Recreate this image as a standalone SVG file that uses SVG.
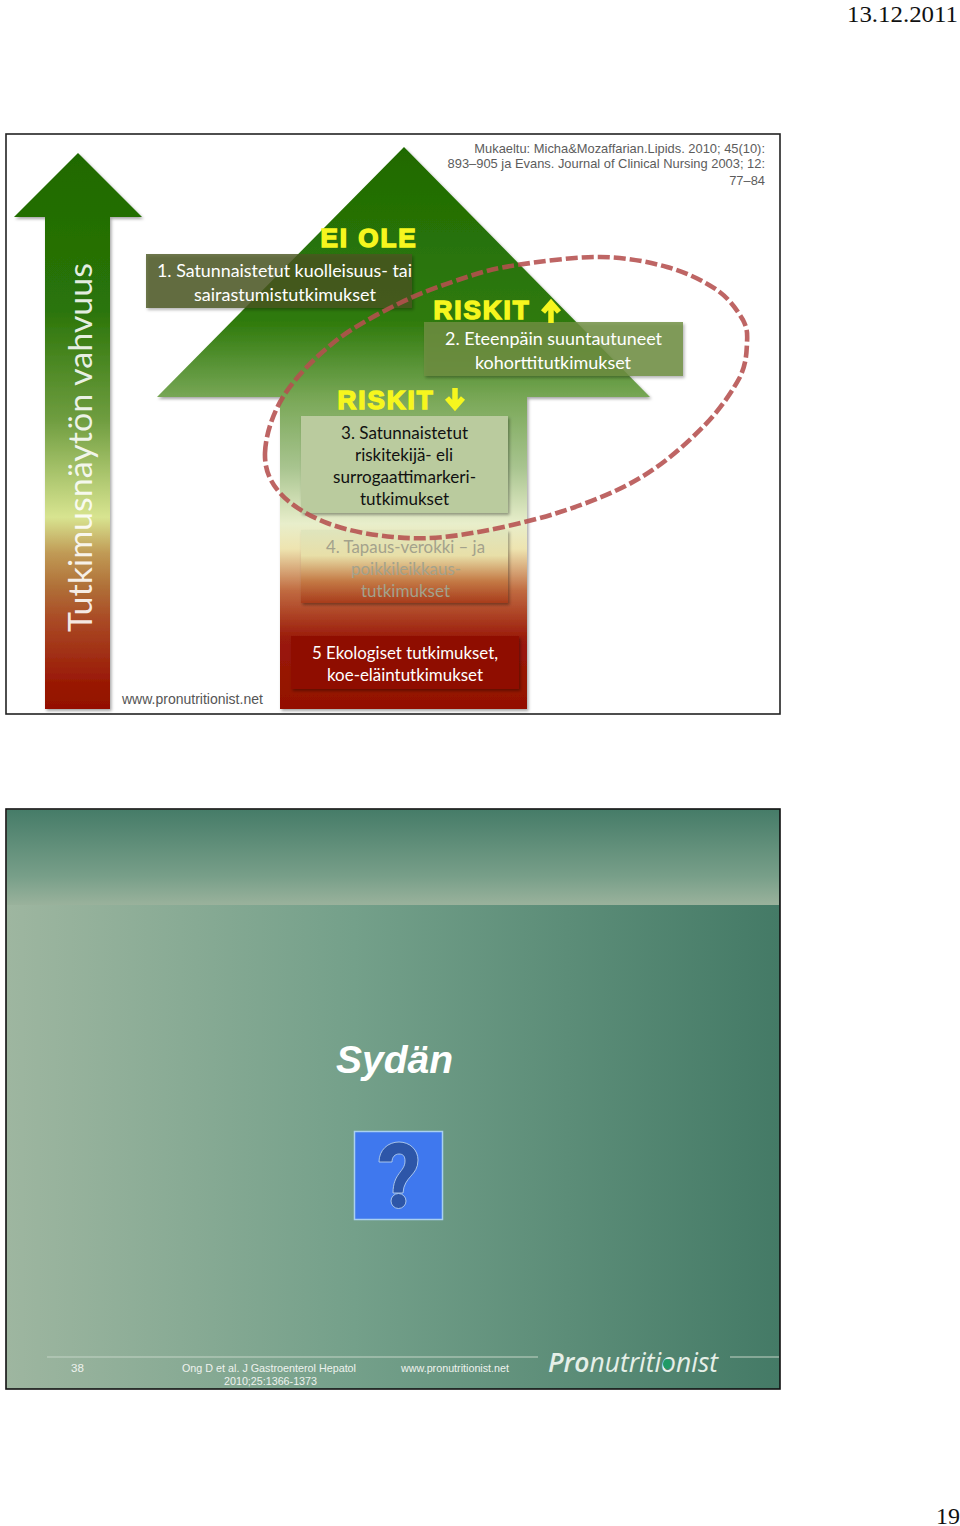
<svg xmlns="http://www.w3.org/2000/svg" width="960" height="1526" viewBox="0 0 960 1526">
<style>
.ar{font-family:"Liberation Sans",Arial,sans-serif}
.hd{font-family:"Liberation Sans",Arial,sans-serif;font-weight:bold;fill:#f6f61e;stroke:#f6f61e;stroke-width:1.5;font-size:26px;letter-spacing:2px;text-anchor:middle}
.box{font-family:Lato,"Open Sans",sans-serif;font-size:18px}
.ref{font-size:12.9px;fill:#5c5c5c;text-anchor:end}
.ft{font-family:"Liberation Sans",Arial,sans-serif;font-size:11.5px;fill:#eef2ee}
</style>
<defs>
<linearGradient id="gMain" gradientUnits="userSpaceOnUse" x1="0" y1="147" x2="0" y2="709">
<stop offset="0" stop-color="#1f6a02"/><stop offset=".31" stop-color="#2f7a0c"/><stop offset=".45" stop-color="#7aa858"/><stop offset=".57" stop-color="#a8c48f"/><stop offset=".67" stop-color="#e8eecb"/><stop offset=".715" stop-color="#eee4b0"/><stop offset=".79" stop-color="#c06a40"/><stop offset=".875" stop-color="#9a1a0a"/><stop offset="1" stop-color="#931000"/>
</linearGradient>
<linearGradient id="gLeft" gradientUnits="userSpaceOnUse" x1="0" y1="153" x2="0" y2="709">
<stop offset="0" stop-color="#1f6a02"/><stop offset=".28" stop-color="#2a7408"/><stop offset=".48" stop-color="#6f9d40"/><stop offset=".655" stop-color="#d8e490"/><stop offset=".72" stop-color="#c09a55"/><stop offset=".78" stop-color="#b07038"/><stop offset=".84" stop-color="#aa4a25"/><stop offset=".96" stop-color="#981503"/><stop offset="1" stop-color="#931000"/>
</linearGradient>
<linearGradient id="gBox4" x1="0" y1="0" x2="0" y2="1">
<stop offset="0" stop-color="#dfe5bd"/><stop offset=".35" stop-color="#e8dfa8"/><stop offset=".7" stop-color="#c47a45"/><stop offset="1" stop-color="#a83c1c"/>
</linearGradient>
<linearGradient id="gSl" x1="0" y1="0" x2="1" y2="0">
<stop offset="0" stop-color="#9eb6a0"/><stop offset=".45" stop-color="#74a08a"/><stop offset="1" stop-color="#447a66"/>
</linearGradient>
<linearGradient id="gTop" x1="0" y1="0" x2="0" y2="1">
<stop offset="0" stop-color="#467c68"/><stop offset=".7" stop-color="#789f89"/><stop offset="1" stop-color="#9ab29c"/>
</linearGradient>
<filter id="sh" x="-5%" y="-5%" width="112%" height="115%"><feDropShadow dx="1.5" dy="2" stdDeviation="1.5" flood-color="#000" flood-opacity=".35"/></filter>
</defs>
<rect width="960" height="1526" fill="#fff"/>
<text x="847" y="21.500" font-family="'Liberation Serif',serif" font-size="24" fill="#111" textLength="111" lengthAdjust="spacingAndGlyphs">13.12.2011</text>
<text x="960" y="1524" text-anchor="end" font-family="'Liberation Serif',serif" font-size="24" fill="#111">19</text>

<g id="slide1">
<rect x="6" y="134" width="774" height="580" fill="#fff" stroke="#222" stroke-width="1.6"/>
<text class="ar ref" x="765" y="153">Mukaeltu: Micha&amp;Mozaffarian.Lipids. 2010; 45(10):</text>
<text class="ar ref" x="765" y="168">893–905 ja Evans. Journal of Clinical Nursing 2003; 12:</text>
<text class="ar ref" x="765" y="185">77–84</text>
<text class="ar" x="122" y="704" font-size="14" fill="#555">www.pronutritionist.net</text>
</g>
<g id="arrow-left">
<polygon points="78,153 142,217 110,217 110,709 45,709 45,217 14,217" fill="url(#gLeft)" filter="url(#sh)"/>
<text class="box" transform="translate(92,632) rotate(-90)" style="font-size:33px" textLength="369" lengthAdjust="spacingAndGlyphs" fill="#fff" fill-opacity=".88">Tutkimusnäytön vahvuus</text>
</g>
<g id="arrow-main">
<polygon points="404,147 650,397 527,397 527,709 280,709 280,397 157,397" fill="url(#gMain)" filter="url(#sh)"/>
</g>
<g id="box1">
<rect x="146" y="254" width="266" height="54" fill="#4a5523" fill-opacity=".8" filter="url(#sh)"/>
<text class="box" fill="#fff" x="157" y="277" textLength="255" lengthAdjust="spacingAndGlyphs">1. Satunnaistetut kuolleisuus- tai</text>
<text class="box" fill="#fff" x="194" y="301" textLength="182" lengthAdjust="spacingAndGlyphs">sairastumistutkimukset</text>
</g>
<g id="box2">
<rect x="424" y="322" width="259" height="54" fill="#6f8f3f" fill-opacity=".82" filter="url(#sh)"/>
<text class="box" fill="#fff" x="445" y="345" textLength="217" lengthAdjust="spacingAndGlyphs">2. Eteenpäin suuntautuneet</text>
<text class="box" fill="#fff" x="475" y="369" textLength="156" lengthAdjust="spacingAndGlyphs">kohorttitutkimukset</text>
</g>
<g id="box3">
<rect x="301" y="416" width="207" height="97" fill="#bacb9e" filter="url(#sh)"/>
<g class="box" fill="#111"><text x="341" y="439" textLength="127" lengthAdjust="spacingAndGlyphs">3. Satunnaistetut</text><text x="355" y="461" textLength="98" lengthAdjust="spacingAndGlyphs">riskitekijä- eli</text><text x="333" y="483" textLength="143" lengthAdjust="spacingAndGlyphs">surrogaattimarkeri-</text><text x="360" y="505" textLength="89" lengthAdjust="spacingAndGlyphs">tutkimukset</text></g>
</g>
<g id="box4">
<rect x="301" y="530" width="207" height="73" fill="url(#gBox4)" filter="url(#sh)"/>
<g class="box" fill="#a3a28c"><text x="326" y="553" textLength="159" lengthAdjust="spacingAndGlyphs">4. Tapaus-verokki – ja</text><text x="351" y="575" textLength="110" lengthAdjust="spacingAndGlyphs">poikkileikkaus-</text><text x="361" y="597" textLength="89" lengthAdjust="spacingAndGlyphs">tutkimukset</text></g>
</g>
<g id="box5">
<rect x="291" y="636" width="228" height="53" fill="#8f0f00" filter="url(#sh)"/>
<g class="box" fill="#fff"><text x="312" y="659" textLength="186" lengthAdjust="spacingAndGlyphs">5 Ekologiset tutkimukset,</text><text x="327" y="681" textLength="156" lengthAdjust="spacingAndGlyphs">koe-eläintutkimukset</text></g>
</g>
<g id="labels">
<text class="hd" x="369" y="247">EI OLE</text>
<text class="hd" x="482" y="319">RISKIT</text>
<text class="hd" x="386" y="409">RISKIT</text>
<path d="M551,323V304M543,312L551,303L559,312" fill="none" stroke="#f6f61e" stroke-width="5.500"/>
<path d="M455,388V406M447,398L455,407L463,398" fill="none" stroke="#f6f61e" stroke-width="5.500"/>
</g>
<g id="connectors">
<path d="M265,453C265.500,437 271.700,415.300 283,397C294.300,378.700 313.500,358.700 333,343C352.500,327.300 377.700,314 400,303C422.300,292 447.500,283.300 467,277C486.500,270.700 494.800,268.300 517,265C539.200,261.700 575,256.700 600,257C625,257.300 647.500,261.500 667,267C686.500,272.500 704.300,281.200 717,290C729.700,298.800 737.800,311.200 743,320C747.500,328.800 747.500,333.500 747,343C746.500,352.500 746.500,363 740,377C732.500,391 719.700,410.200 703,427C686.300,443.800 664.300,463.700 640,478C615.700,492.300 587,503.500 557,513C527,522.500 487.300,531 460,535C432.700,539 415.200,539 393,537C370.800,535 345.800,530.300 327,523C308.200,515.700 290.300,504.700 280,493C269.700,481.300 264.500,469 265,453Z" fill="none" stroke="#b5504f" stroke-opacity=".88" stroke-width="4.600" stroke-dasharray="12 4"/>
</g>
<g id="slide2">
<rect x="6" y="809" width="774" height="580" fill="url(#gSl)" stroke="#111" stroke-width="1.6"/>
<rect x="7" y="810" width="772" height="95" fill="url(#gTop)"/>
<text class="ar" x="336" y="1073" font-size="39" font-weight="bold" font-style="italic" fill="#fff">Sydän</text>
<rect x="354.500" y="1131.500" width="88" height="88" fill="#3f78ee" stroke="#a9d0f0" stroke-width="1.5"/>
<path d="M379,1162C379,1150 388,1142 399,1142C410,1142 418,1150 418,1160C418,1176 404,1176 403,1193H393C393,1173 405,1172 405,1161C405,1156 403,1154 399,1154C395,1154 392,1157 392,1162Z" fill="#2d56a8" stroke="#c4dcf4" stroke-width=".8"/>
<circle cx="398.500" cy="1201" r="7.500" fill="#2d56a8" stroke="#c4dcf4" stroke-width=".8"/>
<path d="M47,1357H538M730,1357H779" stroke="#c4d4c6" fill="none"/>
<text class="ft" x="71" y="1372">38</text>
<text class="ft" x="182" y="1372" textLength="174" lengthAdjust="spacingAndGlyphs">Ong D et al. J Gastroenterol Hepatol</text>
<text class="ft" x="224" y="1385" textLength="93" lengthAdjust="spacingAndGlyphs">2010;25:1366-1373</text>
<text class="ft" x="401" y="1372" textLength="108" lengthAdjust="spacingAndGlyphs">www.pronutritionist.net</text>
<text x="548" y="1372" font-family="'Open Sans',sans-serif" font-style="italic" font-size="27" fill="#e6efe8" textLength="170" lengthAdjust="spacingAndGlyphs"><tspan font-weight="600">Pro</tspan><tspan font-weight="400">nutrition</tspan><tspan font-weight="400">ist</tspan></text>
<ellipse cx="667" cy="1364" rx="4" ry="5" fill="#1f9a66"/>
</g>
</svg>
